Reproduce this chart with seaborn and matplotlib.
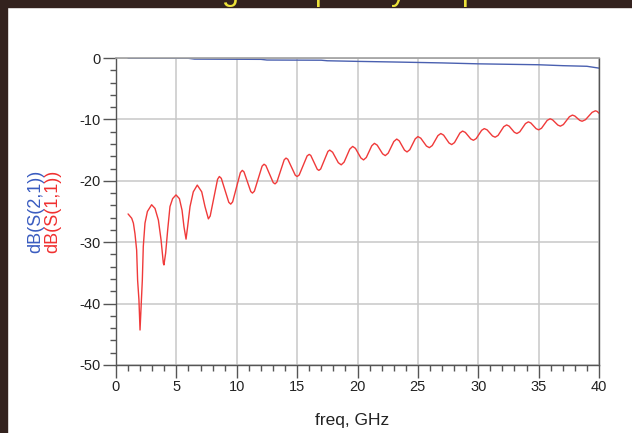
import matplotlib
matplotlib.use("Agg")
import matplotlib.pyplot as plt
from matplotlib.patches import Rectangle
from matplotlib.ticker import MultipleLocator
import seaborn as sns

# ---- data ----
s21_freq = [1, 6, 6.5, 12, 12.5, 17, 17.5, 20, 23, 27, 30, 35, 37, 39, 40]
s21_db = [-0.05, -0.05, -0.18, -0.22, -0.33, -0.36, -0.45, -0.55, -0.65, -0.8,
          -0.95, -1.1, -1.25, -1.35, -1.65]

s11_freq = [1.0, 1.30, 1.44, 1.57, 1.71, 1.79, 1.90, 1.99, 2.10, 2.18,
            2.26, 2.40, 2.60, 2.95, 3.23, 3.51, 3.73, 3.92, 3.97, 4.11,
            4.28, 4.47, 4.69, 4.97, 5.25, 5.47, 5.63, 5.80, 5.93, 6.13,
            6.40, 6.73, 7.10, 7.37, 7.65, 7.80, 8.105, 8.41, 8.56, 8.72,
            9.03, 9.34, 9.5, 9.66, 9.98, 10.30, 10.46, 10.60, 10.88, 11.16,
            11.3, 11.46, 11.78, 12.10, 12.26, 12.41, 12.715, 13.02, 13.17, 13.32,
            13.625, 13.93, 14.08, 14.23, 14.54, 14.85, 15.0, 15.17, 15.5, 15.83,
            16.0, 16.13, 16.4, 16.67, 16.8, 16.95, 17.25, 17.55, 17.7,
            17.94, 18.41, 18.65, 18.89, 19.36, 19.6, 19.83, 20.28, 20.5,
            20.73, 21.18, 21.4, 21.63, 22.08, 22.3, 22.54, 23.01, 23.25,
            23.46, 23.89, 24.1, 24.33, 24.78, 25.0, 25.24, 25.71, 25.95,
            26.19, 26.66, 26.9, 27.13, 27.58, 27.8, 28.03, 28.48, 28.7,
            28.93, 29.38, 29.6, 29.83, 30.28, 30.5, 30.73, 31.18, 31.4,
            31.64, 32.11, 32.35, 32.56, 32.99, 33.2, 33.44, 33.91, 34.15,
            34.36, 34.79, 35.0, 35.24, 35.71, 35.95, 36.16, 36.59, 36.8,
            37.05, 37.55, 37.8, 38.0, 38.4, 38.6, 38.88, 39.43, 39.7,
            39.85, 40.0]
s11_db = [-25.4, -26.1, -26.9, -28.6, -31.3, -36.2, -39.4, -44.3, -39.4, -36.2,
          -30.7, -26.9, -25.0, -23.9, -24.5, -26.4, -29.6, -33.4, -33.7, -31.8,
          -28.0, -24.2, -22.9, -22.3, -22.9, -24.8, -27.5, -29.5, -27.5, -24.2,
          -21.8, -20.7, -21.8, -24.2, -26.2, -25.74, -22.75, -19.76, -19.3, -19.6,
          -21.55, -23.5, -23.8, -23.43, -21.05, -18.67, -18.3, -18.55, -20.15, -21.75,
          -22.0, -21.69, -19.65, -17.61, -17.3, -17.51, -18.9, -20.29, -20.5, -20.22,
          -18.4, -16.58, -16.3, -16.5, -17.8, -19.1, -19.3, -19.06, -17.5, -15.94,
          -15.7, -15.87, -17.0, -18.13, -18.3, -18.08, -16.65, -15.22, -15.0,
          -15.35, -17.05, -17.4, -16.96, -14.84, -14.4, -14.72, -16.28, -16.6,
          -16.2, -14.3, -13.9, -14.19, -15.61, -15.9, -15.5, -13.6, -13.2,
          -13.5, -15.0, -15.3, -14.94, -13.17, -12.8, -13.06, -14.34, -14.6,
          -14.26, -12.64, -12.3, -12.56, -13.84, -14.1, -13.78, -12.22, -11.9,
          -12.12, -13.18, -13.4, -13.12, -11.78, -11.5, -11.7, -12.7, -12.9,
          -12.61, -11.19, -10.9, -11.1, -12.1, -12.3, -12.02, -10.68, -10.4,
          -10.59, -11.51, -11.7, -11.44, -10.16, -9.9, -10.08, -10.92, -11.1,
          -10.84, -9.56, -9.3, -9.45, -10.15, -10.3, -10.05, -8.85, -8.6,
          -8.7, -9.0]

x_ticks = [0, 5, 10, 15, 20, 25, 30, 35, 40]
y_ticks = [-50, -40, -30, -20, -10, 0]
x_label = "freq, GHz"
y_label_s21 = "dB(S(2,1))"
y_label_s11 = "dB(S(1,1))"
title_fragments = [("g", 230), ("p", 323), ("y", 399), ("p", 470)]

# ---- style ----
sns.set_style("white")
plt.rcParams["font.family"] = ["Liberation Sans", "DejaVu Sans"]
plt.rcParams["axes.unicode_minus"] = False

W, H = 632, 433
fig = plt.figure(figsize=(W / 100, H / 100), dpi=100)
fig.patch.set_facecolor("white")

# dark frame pieces (top band and left strip)
frame_col = "#33221e"
fig.add_artist(Rectangle((0, 1 - 7 / H), 1, 7 / H, transform=fig.transFigure,
                         color=frame_col, zorder=0))
fig.add_artist(Rectangle((0, 0), 7 / W, 1, transform=fig.transFigure,
                         color=frame_col, zorder=0))

# yellow title that the reference shows clipped at the top edge
for ch, px in title_fragments:
    fig.text(px / W, 1.0, ch, color="#ece23a", fontsize=22, ha="center",
             va="baseline")

ax = fig.add_axes([116 / W, 1 - 365 / H, 483 / W, 307 / H])
ax.set_facecolor("white")

sns.lineplot(x=s21_freq, y=s21_db, ax=ax, color="#4a60b0", lw=1.0,
             sort=False, estimator=None)
sns.lineplot(x=s11_freq, y=s11_db, ax=ax, color="#f03a3a", lw=1.0,
             sort=False, estimator=None)

ax.set_xlim(0, 40)
ax.set_ylim(-50, 0)
ax.set_xticks(x_ticks)
ax.set_yticks(y_ticks)
ax.xaxis.set_minor_locator(MultipleLocator(1))
ax.yaxis.set_minor_locator(MultipleLocator(2))
ax.tick_params(which="major", direction="out", length=9.5, width=1,
               color="#555555", labelsize=10.5, labelcolor="#222222", pad=1.5,
               bottom=True, left=True)
ax.tick_params(which="minor", direction="out", length=4.5, width=1,
               color="#555555", bottom=True, left=True)

ax.grid(True, which="major", color="#c8c8c8", lw=1.1)
ax.set_axisbelow(True)
for side in ["left", "bottom", "right"]:
    ax.spines[side].set_color("#555555")
    ax.spines[side].set_linewidth(1.0)
ax.spines["top"].set_color("#a0a0a0")
ax.spines["top"].set_linewidth(1.2)

ax.set_xlabel(x_label, fontsize=12.5, color="#222222", va="center")
ax.xaxis.set_label_coords((352 - 116) / 483, (365 - 421) / 307)
ax.set_ylabel("")

fig.text(36 / W, 1 - 211 / H, y_label_s21, rotation=90, color="#3a5cc0",
         fontsize=13, ha="center", va="center")
fig.text(53 / W, 1 - 211 / H, y_label_s11, rotation=90, color="#f03030",
         fontsize=13, ha="center", va="center")

fig.savefig("out.png", dpi=100)
